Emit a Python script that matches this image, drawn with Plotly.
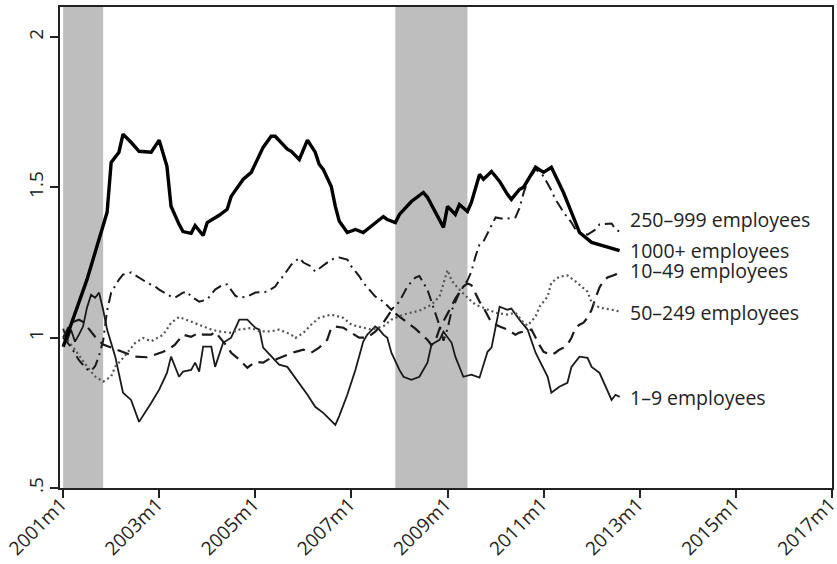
import plotly.graph_objects as go
import pandas as pd

# months counted from 2001m1 (0 = 2001m1)
m_1000 = [0, 3, 6, 11, 12, 14, 15, 17, 19, 22, 24, 26, 27, 29, 30, 32, 33, 35, 36, 39, 41, 42, 45, 47, 50, 52, 53,
          56, 57, 59, 61, 63, 64, 65, 67, 68, 69, 71, 73, 75, 77, 80, 81, 83, 84, 87, 90, 91, 95, 96, 98, 99, 101,
          102, 104, 105, 107, 109, 111, 112, 114, 115, 118, 120, 122, 123, 125, 127, 129, 132, 134, 136, 137, 139]
v_1000 = [0.97, 1.08, 1.193, 1.417, 1.583, 1.617, 1.677, 1.65, 1.62, 1.617, 1.657, 1.57, 1.437, 1.377, 1.353, 1.347,
          1.373, 1.34, 1.383, 1.407, 1.427, 1.47, 1.527, 1.55, 1.633, 1.67, 1.67, 1.627, 1.62, 1.593, 1.657, 1.617,
          1.577, 1.56, 1.503, 1.437, 1.387, 1.35, 1.36, 1.35, 1.37, 1.403, 1.393, 1.383, 1.41, 1.453, 1.483, 1.467,
          1.367, 1.437, 1.41, 1.443, 1.42, 1.45, 1.543, 1.527, 1.553, 1.52, 1.477, 1.46, 1.493, 1.5, 1.567, 1.55,
          1.567, 1.537, 1.483, 1.417, 1.35, 1.317, 1.31, 1.303, 1.3, 1.29]

m_250 = [0, 2, 4, 6, 7, 8, 9, 10, 11, 12, 14, 15, 17, 19, 21, 23, 24, 27, 28, 30, 31, 32, 34, 36, 38, 40, 41, 43, 44,
         46, 48, 51, 53, 54, 55, 57, 59, 60, 62, 63, 65, 67, 69, 71, 72, 74, 75, 77, 78, 80, 82, 84, 86, 88, 89, 91,
         92, 93, 94, 95, 96, 97, 99, 101, 102, 103, 104, 105, 107, 108, 110, 113, 114, 115, 116, 118, 119, 120, 122,
         123, 124, 125, 127, 128, 129, 131, 133, 134, 137, 138, 139]
v_250 = [1.0, 0.97, 0.925, 0.895, 0.89, 0.905, 0.94, 0.99, 1.09, 1.15, 1.193, 1.21, 1.217, 1.2, 1.183, 1.17, 1.16,
         1.137, 1.133, 1.15, 1.153, 1.137, 1.12, 1.127, 1.16, 1.177, 1.177, 1.14, 1.133, 1.137, 1.15, 1.153, 1.17,
         1.19, 1.205, 1.243, 1.265, 1.25, 1.237, 1.22, 1.24, 1.26, 1.267, 1.26, 1.237, 1.205, 1.183, 1.15, 1.137,
         1.12, 1.093, 1.12, 1.17, 1.2, 1.205, 1.16, 1.12, 1.08, 1.04, 0.99, 1.03, 1.09, 1.15, 1.19, 1.22, 1.27, 1.31,
         1.32, 1.37, 1.4, 1.395, 1.4, 1.43, 1.48, 1.52, 1.56, 1.55, 1.537, 1.49, 1.46, 1.44, 1.417, 1.383, 1.36,
         1.35, 1.343, 1.36, 1.377, 1.38, 1.36, 1.353]

m_10 = [0, 2, 4, 5, 6, 8, 10, 15, 18, 21, 23, 25, 27, 28, 30, 32, 34, 35, 37, 38, 41, 42, 44, 46, 48, 50, 52, 53, 56,
        58, 60, 62, 64, 66, 67, 68, 70, 72, 74, 76, 78, 80, 82, 85, 88, 91, 92, 93, 94, 96, 98, 100, 101, 102, 104,
        105, 106, 107, 109, 111, 113, 114, 117, 118, 119, 120, 122, 123, 124, 125, 126, 127, 128, 129, 130, 131,
        132, 133, 134, 135, 136, 138, 139]
v_10 = [1.0, 1.05, 1.06, 1.053, 1.037, 1.003, 0.977, 0.953, 0.937, 0.935, 0.943, 0.953, 0.967, 0.977, 1.01, 1.003,
        1.017, 1.01, 1.01, 1.02, 0.97, 0.95, 0.927, 0.9, 0.92, 0.917, 0.933, 0.927, 0.943, 0.953, 0.96, 0.95, 0.967,
        0.993, 1.033, 1.037, 1.033, 1.017, 1.0, 1.0, 1.02, 1.05, 1.09, 1.06, 1.03, 0.993, 0.975, 0.99, 1.03, 1.08,
        1.13, 1.17, 1.18, 1.175, 1.12, 1.1, 1.077, 1.05, 1.037, 1.027, 1.01, 1.017, 1.027, 1.0, 0.975, 0.953, 0.943,
        0.95, 0.96, 0.967, 0.977, 1.0, 1.033, 1.043, 1.05, 1.067, 1.093, 1.133, 1.167, 1.19, 1.2, 1.21, 1.22]

m_50 = [0, 1, 3, 6, 8, 10, 12, 13, 15, 18, 20, 22, 25, 27, 29, 32, 34, 37, 39, 42, 44, 47, 49, 52, 54, 57, 58, 60,
        62, 64, 67, 70, 72, 75, 77, 80, 82, 85, 87, 89, 92, 94, 96, 97, 99, 101, 103, 106, 108, 111, 113, 115, 116,
        118, 119, 121, 122, 124, 126, 128, 131, 132, 134, 137, 139]
v_50 = [1.0, 0.993, 0.96, 0.904, 0.871, 0.854, 0.871, 0.904, 0.932, 0.982, 0.999, 0.988, 1.01, 1.049, 1.069, 1.054,
        1.043, 1.027, 1.021, 1.016, 1.027, 1.032, 1.021, 1.021, 1.027, 1.01, 0.999, 1.016, 1.043, 1.066, 1.077,
        1.066, 1.043, 1.032, 1.027, 1.038, 1.06, 1.077, 1.083, 1.09, 1.11, 1.137, 1.225, 1.19, 1.16, 1.133, 1.11,
        1.093, 1.083, 1.077, 1.083, 1.05, 1.04, 1.07, 1.103, 1.137, 1.183, 1.203, 1.207, 1.187, 1.153, 1.117, 1.1,
        1.093, 1.087]

m_1 = [0, 1, 2, 3, 4, 5, 6, 7, 8, 9, 10, 11, 13, 15, 17, 19, 22, 24, 26, 27, 29, 30, 32, 33, 34, 35, 37, 38, 40, 42,
       44, 46, 48, 49, 50, 52, 54, 56, 58, 61, 63, 65, 68, 69, 71, 73, 75, 76, 78, 79, 80, 81, 82, 84, 85, 87, 89,
       91, 92, 94, 95, 96, 97, 98, 100, 102, 104, 106, 107, 109, 111, 112, 114, 116, 118, 121, 122, 124, 126, 127,
       129, 131, 132, 134, 136, 137, 138, 139]
v_1 = [1.03, 0.99, 1.027, 0.987, 1.01, 1.037, 1.1, 1.143, 1.133, 1.15, 1.093, 1.027, 0.937, 0.817, 0.793, 0.72,
       0.783, 0.827, 0.883, 0.937, 0.87, 0.887, 0.893, 0.917, 0.887, 0.97, 0.97, 0.903, 0.983, 1.0, 1.06, 1.06,
       1.033, 1.027, 0.967, 0.937, 0.91, 0.903, 0.867, 0.81, 0.77, 0.75, 0.71, 0.74, 0.81, 0.893, 0.987, 1.01,
       1.037, 1.027, 1.01, 1.0, 0.95, 0.893, 0.87, 0.86, 0.87, 0.917, 0.977, 0.993, 1.02, 1.003, 0.983, 0.937,
       0.87, 0.877, 0.867, 0.953, 0.967, 1.103, 1.093, 1.097, 1.06, 1.027, 0.95, 0.87, 0.817, 0.837, 0.85, 0.903,
       0.937, 0.933, 0.903, 0.883, 0.827, 0.793, 0.81, 0.803]

labels = ["250–999 employees", "1000+ employees", "10–49 employees", "50–249 employees", "1–9 employees"]
label_y = [1.393, 1.29, 1.223, 1.083, 0.80]

recessions = [("2001-01-01", "2001-11-01"), ("2007-12-01", "2009-06-01")]
tick_years = [2001, 2003, 2005, 2007, 2009, 2011, 2013, 2015, 2017]
y_ticks = [0.5, 1, 1.5, 2]
y_ticktext = [".5", "1", "1.5", "2"]

base = pd.Timestamp("2001-01-01")


def to_dates(ms):
    return [base + pd.DateOffset(months=int(m)) for m in ms]


fig = go.Figure()

series = [
    (m_1, v_1, dict(color="#1a1a1a", width=1.8, dash="solid")),
    (m_10, v_10, dict(color="#1a1a1a", width=2.2, dash="12px,7px")),
    (m_50, v_50, dict(color="#555555", width=2.2, dash="2px,3px")),
    (m_250, v_250, dict(color="#1a1a1a", width=2.0, dash="11px,5px,2px,5px")),
    (m_1000, v_1000, dict(color="#000000", width=3.4, dash="solid")),
]
for ms, vs, ln in series:
    fig.add_trace(go.Scatter(x=to_dates(ms), y=vs, mode="lines", line=ln, showlegend=False))

for x0, x1 in recessions:
    fig.add_shape(type="rect", xref="x", yref="paper", x0=x0, x1=x1, y0=0, y1=1,
                  fillcolor="#bebebe", line_width=0, layer="below")

for txt, yy in zip(labels, label_y):
    fig.add_annotation(x="2012-10-01", y=yy, xref="x", yref="y", text=txt, showarrow=False,
                       xanchor="left", yanchor="middle", font=dict(size=19.5, color="#222222"))

fig.update_layout(
    width=837, height=564,
    margin=dict(l=60, r=5, t=7, b=76),
    paper_bgcolor="white", plot_bgcolor="white",
    font=dict(family="Open Sans, Noto Sans, sans-serif", color="#222222"),
)
fig.update_xaxes(
    range=["2000-12-08", "2017-01-01 08:00"],
    tickvals=[f"{y}-01-01" for y in tick_years],
    ticktext=[f"{y}m1" for y in tick_years],
    tickangle=-45, tickfont=dict(size=19),
    ticks="outside", ticklen=8, tickwidth=1.5, tickcolor="#222",
    ticklabelstandoff=-12, ticklabelshift=-2, ticklabeloverflow="allow",
    showline=True, linecolor="#222", linewidth=1.5, mirror=True,
    showgrid=False, zeroline=False, automargin=False,
)
fig.update_yaxes(
    range=[0.5, 2.1],
    tickvals=y_ticks, ticktext=y_ticktext,
    tickangle=-90, tickfont=dict(size=19),
    ticks="outside", ticklen=8, tickwidth=1.5, tickcolor="#222",
    showline=True, linecolor="#222", linewidth=1.5, mirror=True,
    showgrid=False, zeroline=False, automargin=False,
)

fig.write_html("out.html", config={"displayModeBar": False},
               post_script="document.body.style.margin='0px';document.body.style.overflow='hidden';")
